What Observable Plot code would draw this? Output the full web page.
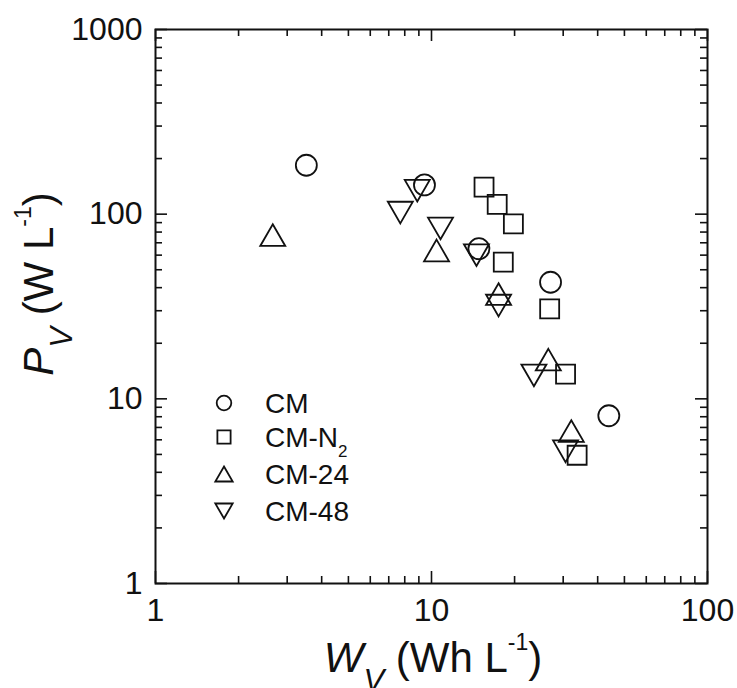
<!DOCTYPE html>
<html><head><meta charset="utf-8">
<script src="https://cdn.jsdelivr.net/npm/d3@7"></script>
<script src="https://cdn.jsdelivr.net/npm/@observablehq/plot@0.6"></script>
<style>body{margin:0;background:#fff} svg{display:block}</style>
</head><body><div id="chart"></div>
<script>
// ---- data ----
const seriesNames = ["CM", "CM-N2", "CM-24", "CM-48"];
const cmW  = [3.52, 9.43, 14.85, 27.0, 43.9];
const cmP  = [184, 144, 65, 42.8, 8.1];
const n2W  = [15.5, 17.3, 19.8, 18.2, 26.8, 30.6, 33.7];
const n2P  = [140, 113, 88.5, 55, 30.7, 13.6, 4.95];
const c24W = [2.66, 10.43, 17.5, 26.5, 32.1];
const c24P = [77, 63.6, 36.9, 16.3, 6.69];
const c48W = [8.88, 7.71, 10.78, 14.55, 17.5, 23.5, 30.6];
const c48P = [134, 102, 83.7, 60, 32, 13.4, 5.2];
const xTicks = [1, 10, 100];
const yTicks = [1, 10, 100, 1000];
const xMinor = [2,3,4,5,6,7,8,9,20,30,40,50,60,70,80,90];
const yMinor = [2,3,4,5,6,7,8,9,20,30,40,50,60,70,80,90,200,300,400,500,600,700,800,900];

const rows = (name, W, P) => W.map((w, i) => ({series: name, W: w, P: P[i]}));

// ---- symbols ----
const symCircle = {draw(c, size) { const r = Math.sqrt(size / Math.PI); c.moveTo(r, 0); c.arc(0, 0, r, 0, 2 * Math.PI); c.closePath(); }};
const symSquare = {draw(c, size) { const r = Math.sqrt(size / Math.PI) * 0.905; c.moveTo(-r, -r); c.lineTo(r, -r); c.lineTo(r, r); c.lineTo(-r, r); c.closePath(); }};
const symUp = {draw(c, size) { const r = Math.sqrt(size / Math.PI); const w = r * 1.19, h = r * 1.03; c.moveTo(0, -h); c.lineTo(w, h); c.lineTo(-w, h); c.closePath(); }};
const symDown = {draw(c, size) { const r = Math.sqrt(size / Math.PI); const w = r * 1.19, h = r * 1.03; c.moveTo(0, h); c.lineTo(w, -h); c.lineTo(-w, -h); c.closePath(); }};
const symbolList = [symCircle, symSquare, symUp, symDown];
const dataSets = [rows(seriesNames[0], cmW, cmP), rows(seriesNames[1], n2W, n2P), rows(seriesNames[2], c24W, c24P), rows(seriesNames[3], c48W, c48P)];

const W = 737, H = 688, mL = 155, mR = 30, mT = 29, mB = 105;
const pw = W - mL - mR, ph = H - mT - mB;
const ink = "#111";

const chart = Plot.plot({
  width: W, height: H,
  marginLeft: mL, marginRight: mR, marginTop: mT, marginBottom: mB,
  style: {fontFamily: "'Liberation Sans', Arial, sans-serif", fontSize: "32px", color: ink, background: "#fff"},
  x: {type: "log", domain: [1, 100], label: null},
  y: {type: "log", domain: [1, 1000], label: null},
  marks: [
    // inward ticks on all four sides
    Plot.tickX(xTicks, {x: d => d, insetTop: ph - 12, stroke: ink, strokeWidth: 1.6}),
    Plot.tickX(xTicks, {x: d => d, insetBottom: ph - 12, stroke: ink, strokeWidth: 1.6}),
    Plot.tickX(xMinor, {x: d => d, insetTop: ph - 7, stroke: ink, strokeWidth: 1.6}),
    Plot.tickX(xMinor, {x: d => d, insetBottom: ph - 7, stroke: ink, strokeWidth: 1.6}),
    Plot.tickY(yTicks, {y: d => d, insetRight: pw - 12, stroke: ink, strokeWidth: 1.6}),
    Plot.tickY(yTicks, {y: d => d, insetLeft: pw - 12, stroke: ink, strokeWidth: 1.6}),
    Plot.tickY(yMinor, {y: d => d, insetRight: pw - 7, stroke: ink, strokeWidth: 1.6}),
    Plot.tickY(yMinor, {y: d => d, insetLeft: pw - 7, stroke: ink, strokeWidth: 1.6}),
    Plot.axisX(xTicks, {anchor: "bottom", tickSize: 0, tickPadding: 15, tickFormat: d => String(d), label: null}),
    Plot.axisY(yTicks, {anchor: "left", tickSize: 0, tickPadding: 13, tickFormat: d => String(d), label: null}),
    Plot.frame({stroke: ink, strokeWidth: 2}),
    ...dataSets.map((ds, k) => Plot.dot(ds, {x: "W", y: "P", r: 10.5, symbol: symbolList[k], stroke: ink, strokeWidth: 1.8, fill: "none"}))
  ]
});
document.getElementById("chart").appendChild(chart);

// ---- axis titles & legend ----
const svg = d3.select(chart);
const font = "'Liberation Sans', Arial, sans-serif";

const xt = svg.append("text").attr("x", 433).attr("y", 672).attr("text-anchor", "middle")
  .attr("font-family", font).attr("font-size", 42).attr("fill", ink);
xt.append("tspan").attr("font-style", "italic").text("W");
xt.append("tspan").attr("font-style", "italic").attr("font-size", 31).attr("dy", 19).text("V");
xt.append("tspan").attr("dy", -19).text(" (Wh L");
xt.append("tspan").attr("font-size", 23).attr("dy", -22).text("-1");
xt.append("tspan").attr("dy", 22).text(")");

const yt = svg.append("text").attr("transform", "translate(53,284) rotate(-90)").attr("text-anchor", "middle")
  .attr("font-family", font).attr("font-size", 42).attr("fill", ink);
yt.append("tspan").attr("font-style", "italic").text("P");
yt.append("tspan").attr("font-style", "italic").attr("font-size", 31).attr("dy", 19).text("V");
yt.append("tspan").attr("dy", -19).text(" (W L");
yt.append("tspan").attr("font-size", 23).attr("dy", -22).text("-1");
yt.append("tspan").attr("dy", 22).text(")");

const legY = [403, 437, 474, 511];
const leg = svg.append("g");
seriesNames.forEach((name, k) => {
  const p = d3.path();
  symbolList[k].draw(p, 7.3 * 7.3 * Math.PI);
  leg.append("path").attr("d", p.toString()).attr("transform", `translate(224,${legY[k]})`)
    .attr("fill", "none").attr("stroke", ink).attr("stroke-width", 1.8);
  const t = leg.append("text").attr("x", 265).attr("y", legY[k] + 10).attr("text-anchor", "start")
    .attr("font-family", font).attr("font-size", 28).attr("fill", ink);
  if (name === "CM-N2") {
    t.append("tspan").text("CM-N");
    t.append("tspan").attr("font-size", 17).attr("dy", 10).text("2");
  } else {
    t.text(name);
  }
});
</script>
</body></html>
